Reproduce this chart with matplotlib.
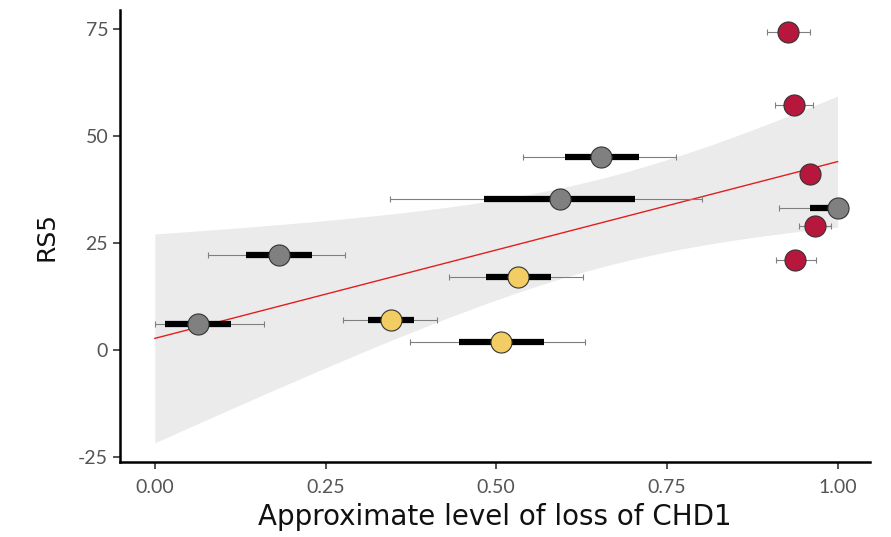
import numpy as np
import matplotlib
matplotlib.use("Agg")
import matplotlib.pyplot as plt

plt.rcParams['font.family'] = ['Lato', 'DejaVu Sans']
plt.rcParams['axes.unicode_minus'] = False

# точки: уровень потери CHD1 и RS5
loss = [0.063, 0.182, 0.593, 0.654, 1.000,
        0.346, 0.532, 0.507,
        0.927, 0.936, 0.959, 0.967, 0.937]
rs5 = [6.1, 22.2, 35.2, 45.2, 33.1,
       6.9, 17.1, 1.9,
       74.4, 57.2, 41.1, 29.0, 21.0]
group = ["grey"] * 5 + ["yellow"] * 3 + ["red"] * 5

# тонкие усы (min/max) и толстые полосы (квартили)
whisk_lo = [0.000, 0.078, 0.344, 0.539, 0.914,
            0.276, 0.431, 0.374,
            0.897, 0.909, 0.950, 0.943, 0.910]
whisk_hi = [0.160, 0.278, 0.802, 0.764, 1.000,
            0.413, 0.627, 0.630,
            0.959, 0.964, 0.968, 0.991, 0.968]
box_lo = [0.015, 0.133, 0.482, 0.601, 0.960,
          0.312, 0.485, 0.446,
          0.918, 0.930, 0.955, 0.962, 0.932]
box_hi = [0.111, 0.230, 0.704, 0.709, 1.000,
          0.379, 0.581, 0.570,
          0.936, 0.942, 0.963, 0.972, 0.942]

COLORS = {"grey": "#808080", "yellow": "#F2CD63", "red": "#B8173D"}
T_975 = 2.201  # квантиль t для df = 11

x = np.array(loss)
y = np.array(rs5)
n = len(x)
slope, intercept = np.polyfit(x, y, 1)
resid = y - (intercept + slope * x)
s = np.sqrt(np.sum(resid ** 2) / (n - 2))
xs = np.linspace(0, 1, 200)
fit = intercept + slope * xs
se = s * np.sqrt(1 / n + (xs - x.mean()) ** 2 / np.sum((x - x.mean()) ** 2))

fig = plt.figure(figsize=(8.91, 5.37), dpi=100)
ax = fig.add_axes([0.1347, 0.1397, 0.8413, 0.8413])

ax.fill_between(xs, fit - T_975 * se, fit + T_975 * se, color="#EBEBEB", lw=0, zorder=1)
ax.plot(xs, fit, color="#E0201E", lw=1.0, zorder=2)

ax.errorbar(x, y, xerr=[x - np.array(whisk_lo), np.array(whisk_hi) - x], fmt="none",
            ecolor="#7F7F7F", elinewidth=0.8, capsize=2.2, capthick=0.8, zorder=3)
ax.hlines(y, box_lo, box_hi, color="black", lw=4.5, zorder=4)
for g in COLORS:
    idx = [i for i in range(n) if group[i] == g]
    ax.scatter(x[idx], y[idx], s=230, color=COLORS[g], edgecolor="#333333", lw=0.8, zorder=5)

ax.set_xlim(-0.051, 1.047)
ax.set_ylim(-26.2, 79.4)
ax.set_xticks([0, 0.25, 0.5, 0.75, 1.0])
ax.set_xticklabels(["0.00", "0.25", "0.50", "0.75", "1.00"])
ax.set_yticks([-25, 0, 25, 50, 75])
ax.tick_params(axis="both", labelsize=14, labelcolor="#555555", color="#333333", length=5, width=1.2)
ax.tick_params(axis="x", pad=7)

for side in ("top", "right"):
    ax.spines[side].set_visible(False)
for side in ("left", "bottom"):
    ax.spines[side].set_linewidth(1.8)

ax.set_xlabel("Approximate level of loss of CHD1", fontsize=20, family="DejaVu Sans",
              labelpad=5, color="#111111")
ax.set_ylabel("RS5", fontsize=18, family="DejaVu Sans", labelpad=14, color="#111111")

plt.savefig("out.png", dpi=100)
